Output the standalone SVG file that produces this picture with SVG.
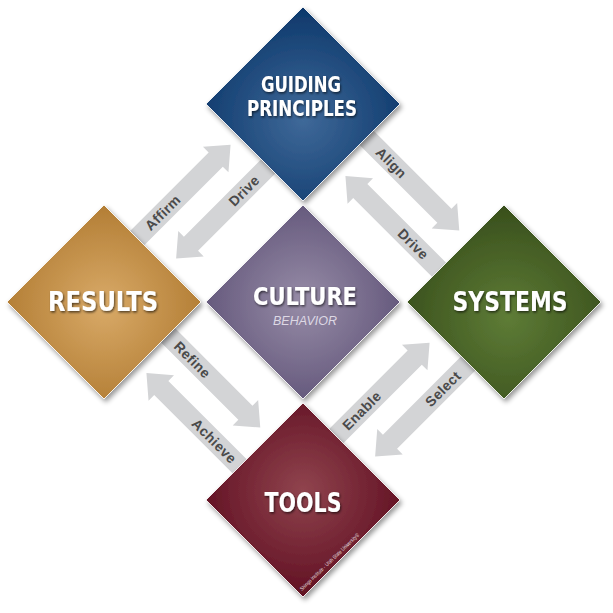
<svg xmlns="http://www.w3.org/2000/svg" xmlns:xlink="http://www.w3.org/1999/xlink" width="613" height="613" viewBox="0 0 613 613">
<defs>
<style>
.band{fill:#d3d4d6}
.blab{font-family:"Liberation Sans",Arial,sans-serif;font-weight:bold;font-size:14px;fill:#4a4a4a;text-anchor:middle;letter-spacing:0.4px}
.dia{stroke:#ffffff;stroke-width:1;stroke-opacity:0.85;filter:url(#shadow)}
.big{font-family:"Liberation Sans Narrow","DejaVu Sans Condensed","Liberation Sans",Arial,sans-serif;font-weight:bold;fill:#ffffff;text-anchor:middle;filter:url(#tshadow)}
.sub{font-family:"Liberation Sans",Arial,sans-serif;font-style:italic;font-size:12px;fill:#ddd8e4;text-anchor:middle}
.tiny{font-family:"Liberation Sans",Arial,sans-serif;font-size:5.5px;fill:#ffffff;fill-opacity:0.85}
</style>
<filter id="shadow" x="-20%" y="-20%" width="150%" height="150%">
<feDropShadow dx="2" dy="3" stdDeviation="2.5" flood-color="#000" flood-opacity="0.4"/>
</filter>
<filter id="tshadow" x="-20%" y="-40%" width="150%" height="190%">
<feDropShadow dx="1" dy="1.5" stdDeviation="1" flood-color="#000" flood-opacity="0.6"/>
</filter>
<radialGradient id="gBlue" cx="50%" cy="58%" r="60%">
<stop offset="0" stop-color="#3f6999"/><stop offset="1" stop-color="#0b3669"/>
</radialGradient>
<radialGradient id="gPurple" cx="50%" cy="50%" r="60%">
<stop offset="0" stop-color="#978ca7"/><stop offset="1" stop-color="#5c5075"/>
</radialGradient>
<radialGradient id="gGold" cx="50%" cy="52%" r="60%">
<stop offset="0" stop-color="#d9aa68"/><stop offset="1" stop-color="#ad772d"/>
</radialGradient>
<radialGradient id="gGreen" cx="52%" cy="58%" r="60%">
<stop offset="0" stop-color="#5e7c36"/><stop offset="1" stop-color="#374d1b"/>
</radialGradient>
<radialGradient id="gRed" cx="50%" cy="45%" r="60%">
<stop offset="0" stop-color="#90444e"/><stop offset="1" stop-color="#5c0b1e"/>
</radialGradient>
<path id="fwd" d="M40,-31 H179 V-39 L200,-21 L179,-3 V-11 H40 Z"/>
<path id="bwd" d="M241,11 H102 V3 L81,21 L102,39 V31 H241 Z"/>
<path id="dshape" d="M0,-97 L97,0 L0,97 L-97,0 Z"/>
</defs>
<rect width="613" height="613" fill="#ffffff"/>

<g id="connectors">
<g transform="translate(104,301) rotate(-45)">
<use xlink:href="#fwd" class="band"/>
<use xlink:href="#bwd" class="band"/>
<text class="blab" x="104" y="-16">Affirm</text>
<text class="blab" x="177" y="26">Drive</text>
</g>
<g transform="translate(303,104) rotate(45)">
<use xlink:href="#fwd" class="band"/>
<use xlink:href="#bwd" class="band"/>
<text class="blab" x="104" y="-16">Align</text>
<text class="blab" x="177" y="26">Drive</text>
</g>
<g transform="translate(303,499) rotate(-45)">
<use xlink:href="#fwd" class="band"/>
<use xlink:href="#bwd" class="band"/>
<text class="blab" x="104" y="-16">Enable</text>
<text class="blab" x="177" y="26">Select</text>
</g>
<g transform="translate(104,301) rotate(45)">
<use xlink:href="#fwd" class="band"/>
<use xlink:href="#bwd" class="band"/>
<text class="blab" x="104" y="-16">Refine</text>
<text class="blab" x="177" y="26">Achieve</text>
</g>
</g>

<g id="guiding">
<use xlink:href="#dshape" class="dia" fill="url(#gBlue)" transform="translate(303,104)"/>
<text class="big" x="301" y="91.5" font-size="22" textLength="80" lengthAdjust="spacingAndGlyphs">GUIDING</text>
<text class="big" x="302" y="115.5" font-size="22" textLength="110" lengthAdjust="spacingAndGlyphs">PRINCIPLES</text>
</g>

<g id="culture">
<use xlink:href="#dshape" class="dia" fill="url(#gPurple)" transform="translate(303,302)"/>
<text class="big" x="305" y="305" font-size="25" textLength="104" lengthAdjust="spacingAndGlyphs">CULTURE</text>
<text class="sub" x="305" y="325" textLength="64" lengthAdjust="spacingAndGlyphs">BEHAVIOR</text>
</g>

<g id="results">
<use xlink:href="#dshape" class="dia" fill="url(#gGold)" transform="translate(104,302)"/>
<text class="big" x="103" y="311" font-size="27" textLength="110" lengthAdjust="spacingAndGlyphs">RESULTS</text>
</g>

<g id="systems">
<use xlink:href="#dshape" class="dia" fill="url(#gGreen)" transform="translate(504,302)"/>
<text class="big" x="510" y="311" font-size="27" textLength="115" lengthAdjust="spacingAndGlyphs">SYSTEMS</text>
</g>

<g id="tools">
<use xlink:href="#dshape" class="dia" fill="url(#gRed)" transform="translate(303,500)"/>
<text class="big" x="303" y="512" font-size="27" textLength="77" lengthAdjust="spacingAndGlyphs">TOOLS</text>
<text class="tiny" transform="translate(302,591) rotate(-44)" textLength="80" lengthAdjust="spacingAndGlyphs">Shingo Institute - Utah State University®</text>
</g>
</svg>
